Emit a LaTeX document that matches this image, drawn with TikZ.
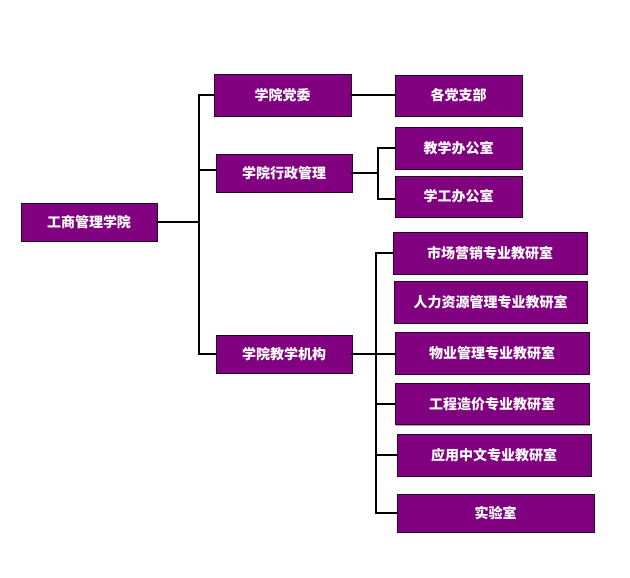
\documentclass[tikz,border=0pt]{standalone}
\usepackage{fontspec}
\newfontfamily\cjk{Noto Sans CJK SC}
\usetikzlibrary{shadows}
\definecolor{boxpurple}{HTML}{800080}
\definecolor{boxedge}{HTML}{2A002A}
\begin{document}
\begin{tikzpicture}[x=1pt,y=-1pt,
  box/.style={rectangle, fill=boxpurple, draw=boxedge, line width=0.9pt,
    inner sep=0pt, outer sep=0pt, text=white, font=\cjk\bfseries\fontsize{14}{16}\selectfont,
    drop shadow={shadow xshift=1pt, shadow yshift=-1pt, fill=gray!70, opacity=1}},
  conn/.style={draw=black, line width=1.8pt, line cap=rect}]
\useasboundingbox (0,0) rectangle (630,578);
\fill[white] (0,0) rectangle (630,578);

\node[box, minimum width=136pt, minimum height=38pt] (root) at (89,222) {工商管理学院};
\node[box, minimum width=137pt, minimum height=42pt] (dw) at (282.5,95) {学院党委};
\node[box, minimum width=136pt, minimum height=38pt] (xz) at (284,173) {学院行政管理};
\node[box, minimum width=136pt, minimum height=38pt] (jx) at (284,354) {学院教学机构};

\node[box, minimum width=127pt, minimum height=41pt] (dzb) at (458.5,95.5) {各党支部};
\node[box, minimum width=127pt, minimum height=42pt] (jxb) at (458.5,148) {教学办公室};
\node[box, minimum width=127pt, minimum height=41pt] (xgb) at (458.5,196.5) {学工办公室};

\node[box, minimum width=194pt, minimum height=42pt] (s1) at (490,253) {市场营销专业教研室};
\node[box, minimum width=193pt, minimum height=42pt] (s2) at (490.5,302) {人力资源管理专业教研室};
\node[box, minimum width=194pt, minimum height=42pt] (s3) at (492,353) {物业管理专业教研室};
\node[box, minimum width=194pt, minimum height=41pt] (s4) at (492,404) {工程造价专业教研室};
\node[box, minimum width=194pt, minimum height=42pt] (s5) at (494,455) {应用中文专业教研室};
\node[box, minimum width=197pt, minimum height=38pt] (s6) at (495.5,513) {实验室};

% main trunk
\coordinate (t1) at (199,95);
\coordinate (t2) at (199,354);
\draw[conn] (t1) -- (t2);
\draw[conn] (root.east) -- (root.east -| t1);
\draw[conn] (dw.west) -- (t1);
\draw[conn] ([yshift=3pt]xz.west) -- ([yshift=3pt]xz.west -| t1);
\draw[conn] (jx.west) -- (t2);

% party branch
\draw[conn] (dw.east) -- (dw.east -| dzb.west);

% admin branch
\coordinate (v2) at (378,0);
\draw[conn] (xz.east) -- (xz.east -| v2);
\draw[conn] (jxb.west -| v2) -- ([yshift=-2.5pt]xgb.west -| v2);
\draw[conn] (jxb.west) -- (jxb.west -| v2);
\draw[conn] ([yshift=-2.5pt]xgb.west) -- ([yshift=-2.5pt]xgb.west -| v2);

% teaching branch
\coordinate (v3) at (376,0);
\draw[conn] (s1.west -| v3) -- (s6.west -| v3);
\draw[conn] (jx.east) -- (jx.east -| s3.west);
\draw[conn] (s1.west) -- (s1.west -| v3);
\draw[conn] (s4.west) -- (s4.west -| v3);
\draw[conn] (s5.west) -- (s5.west -| v3);
\draw[conn] (s6.west) -- (s6.west -| v3);
\end{tikzpicture}
\end{document}
